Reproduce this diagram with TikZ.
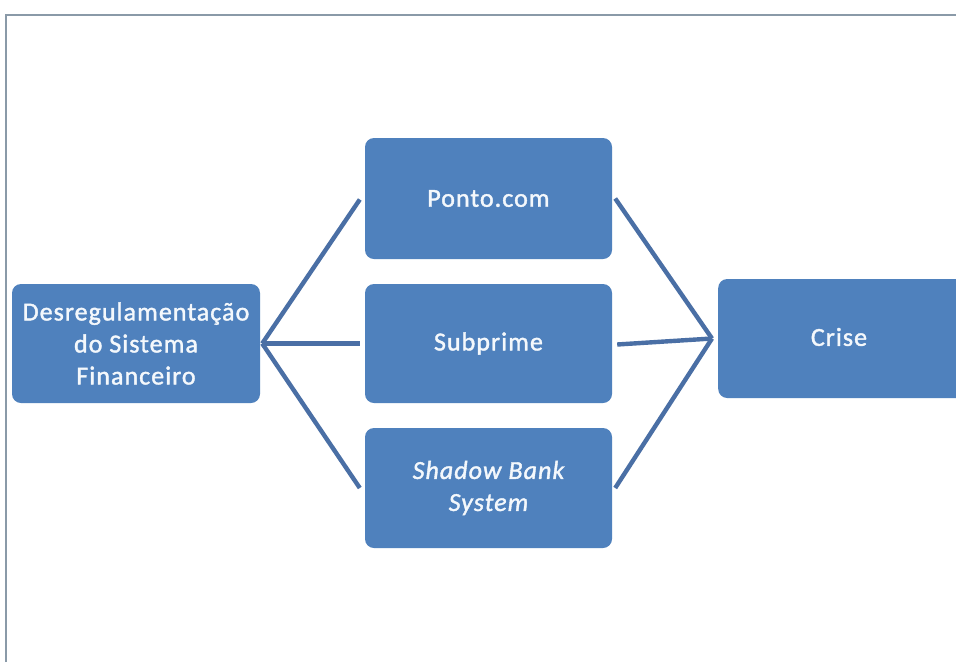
\documentclass[tikz,border=0pt]{standalone}
\usepackage{fontspec}
\setmainfont{Carlito}[LetterSpace=4,FakeBold=1.5,ItalicFeatures={FakeBold=1.5}]
\definecolor{boxblue}{HTML}{4F81BD}
\definecolor{lineblue}{HTML}{4A6FA5}
\definecolor{framegray}{HTML}{8A9AA8}
\definecolor{txt}{HTML}{F4F8FC}
\begin{document}
\begin{tikzpicture}[x=1pt,y=-1pt,
  blk/.style={draw=none,fill=boxblue,rounded corners=9pt,minimum width=248pt,minimum height=120pt,
    text=txt,align=center,font=\fontsize{26}{32}\selectfont,inner sep=0pt},
  conn/.style={draw=lineblue,line width=4.4pt}]
\useasboundingbox (0,0) rectangle (956,662);
\fill[white] (0,0) rectangle (956,662);
\draw[framegray,line width=1.6pt] (6,662) -- (6,15) -- (956,15);
\node[blk,minimum height=119pt] (L) at (136,343.5) {Desregulamentação\\do Sistema\\Financeiro};
\node[blk,minimum width=247pt,minimum height=121pt] (P) at (488.5,198.5) {Ponto.com};
\node[blk,minimum width=247pt,minimum height=119pt] (S) at (488.5,343.5) {Subprime};
\node[blk,minimum width=247pt,minimum height=120pt] (B) at (488.5,488) {\itshape Shadow Bank\\\itshape System};
\node[blk,minimum width=260pt,minimum height=119pt,anchor=west,text width=240pt] (C) at (718,338.5) {};
\node[text=txt,font=\fontsize{26}{32}\selectfont,inner sep=0pt] (Ct) at (839,337) {Crise};
\coordinate (jl) at ([xshift=2pt]L.east);
\coordinate (jr) at ([xshift=-6pt]C.west);
\draw[conn] (jl) -- ([xshift=-5pt,yshift=-1pt]P.west);
\draw[conn] (jl) -- ([xshift=-5pt]S.west);
\draw[conn] (jl) -- ([xshift=-5pt]B.west);
\draw[conn] ([xshift=3pt]P.east) -- (jr);
\draw[conn] ([xshift=5pt,yshift=-1pt]S.east) -- (jr);
\draw[conn] ([xshift=3pt]B.east) -- (jr);
\end{tikzpicture}
\end{document}
